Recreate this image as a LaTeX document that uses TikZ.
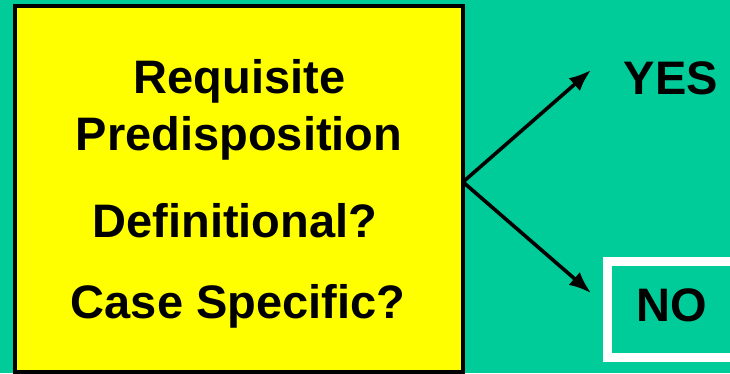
\documentclass[tikz,border=0pt]{standalone}
\usepackage{fontspec}
\setmainfont{Liberation Sans}
\usetikzlibrary{arrows.meta}
\definecolor{teal}{HTML}{00CC99}
\definecolor{sun}{HTML}{FFFF00}

\begin{document}
\begin{tikzpicture}[x=1pt,y=-1pt,
  word/.style={font=\fontsize{47}{47}\selectfont\bfseries, inner sep=0pt, anchor=base},
  fork/.style={line width=3.6pt, -{Latex[length=22pt,width=17pt]}}]
\clip (0,0) rectangle (730,373);
\fill[teal] (0,0) rectangle (730,373);
\node[draw=black, fill=sun, line width=4pt, minimum width=448pt, minimum height=366pt, inner sep=0pt] (box) at (239,189) {};
\node[word] (req) at (239.5,93) {Requisite};
\node[word] (pre) at (239,150) {Predisposition};
\node[word] (def) at (235,237) {Definitional?};
\node[word] (cas) at (238,318) {Case Specific?};

\coordinate (split) at (463,182);
\coordinate (yestip) at (591,70);
\coordinate (notip) at (591,293);
\node[word] (yes) at (671,94) {YES};
\node[draw=white, line width=8.5pt, minimum width=128pt, minimum height=96pt, inner sep=0pt] (nobox) at (671.5,309.5) {};
\node[word] (no) at (671.5,321) {NO};
\draw[fork] (split) -- (yestip);
\draw[fork] (split) -- (notip);
\end{tikzpicture}
\end{document}
